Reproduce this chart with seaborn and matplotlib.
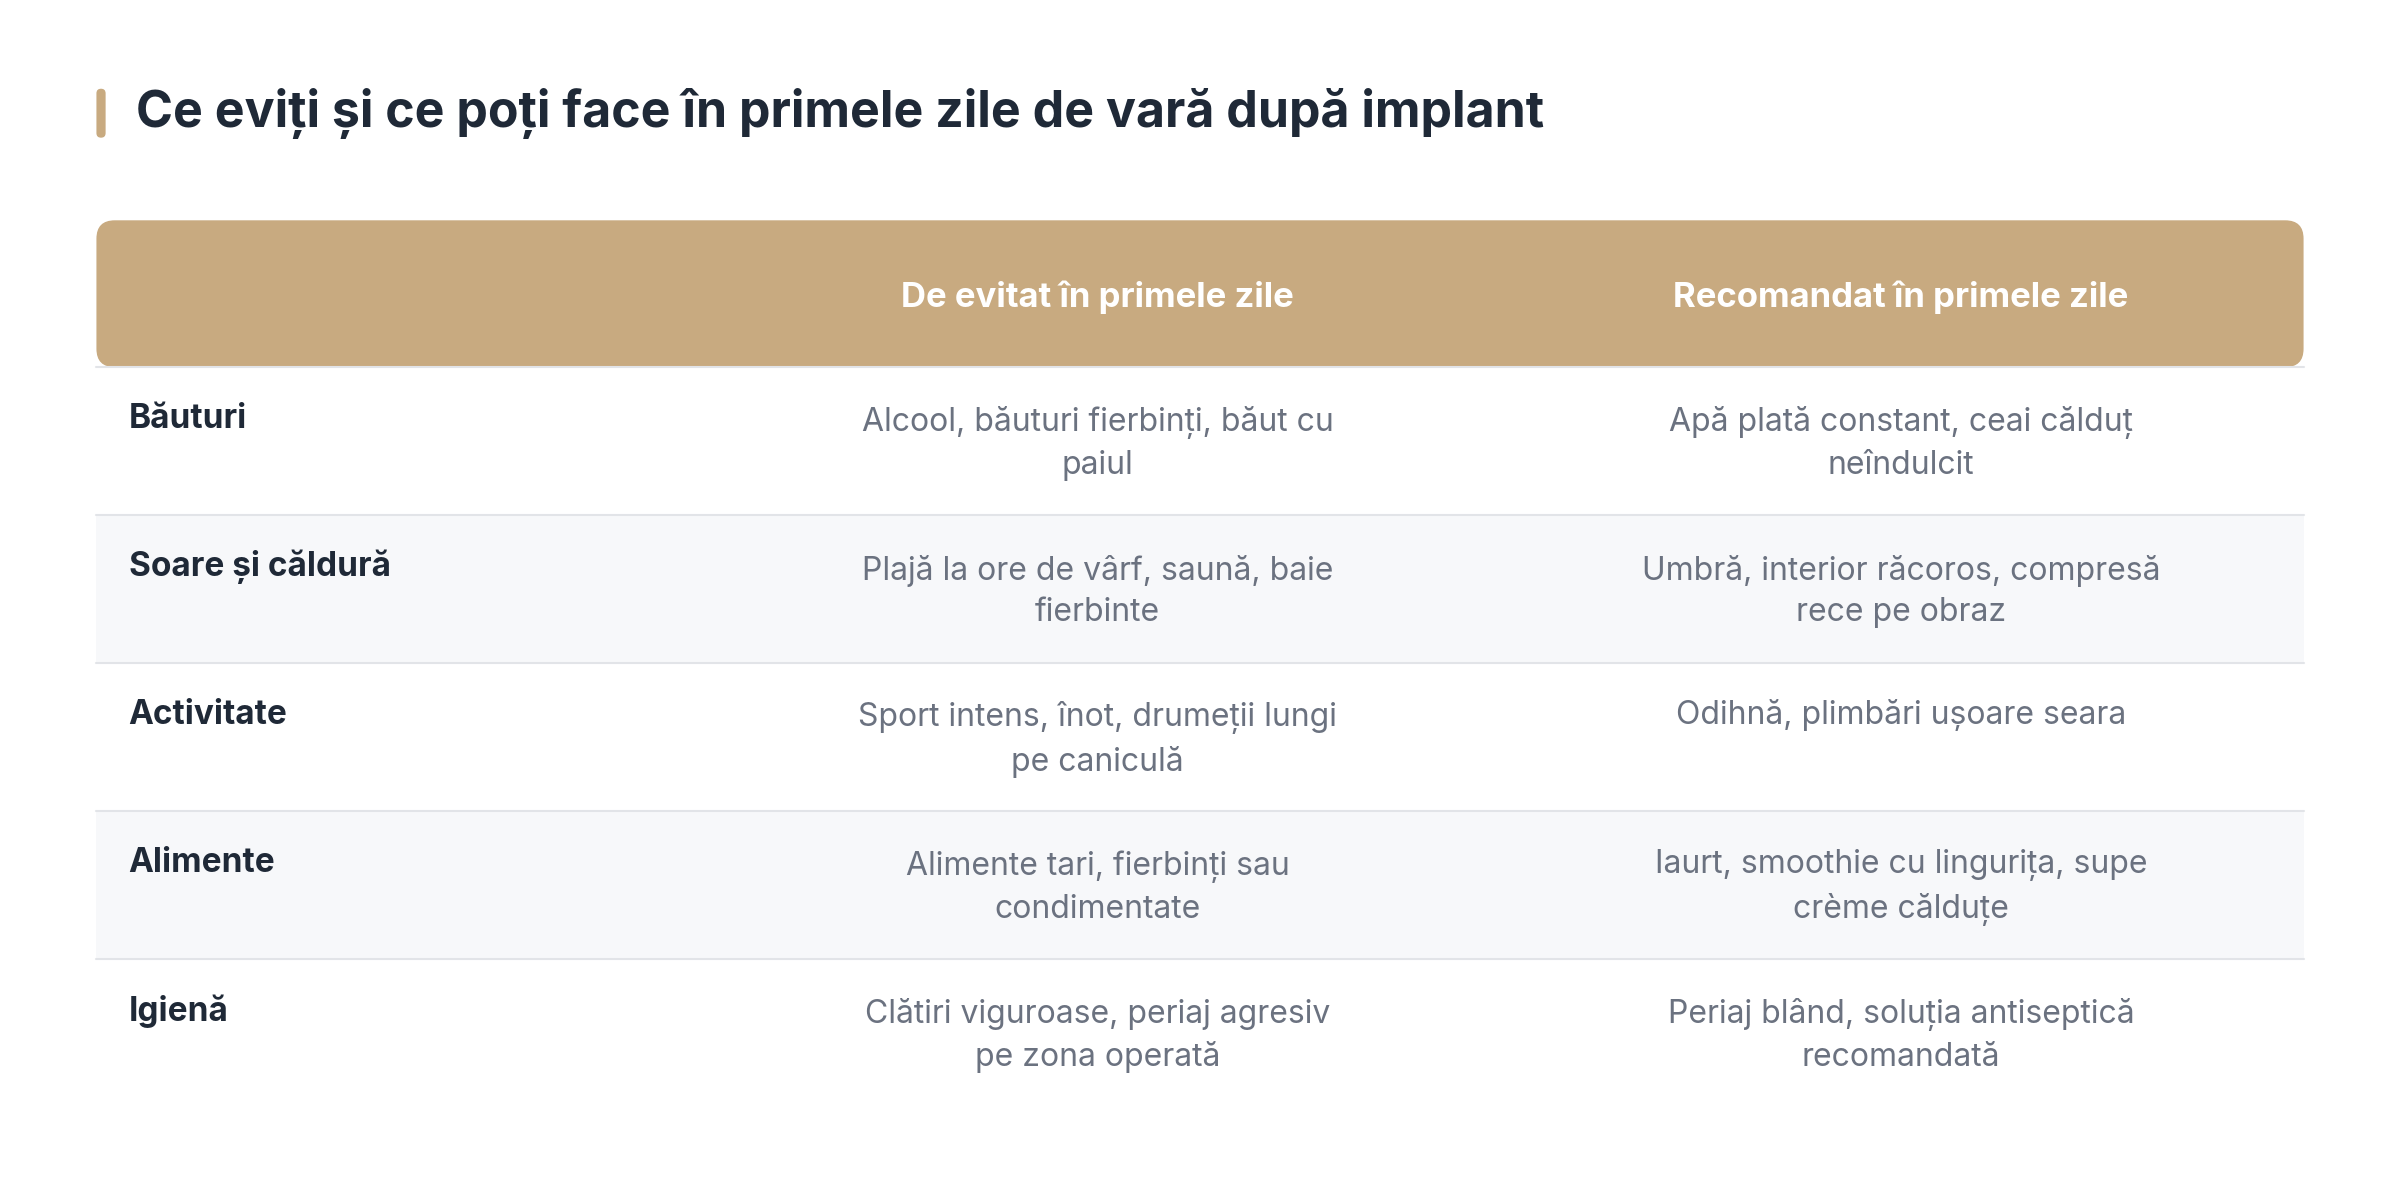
import matplotlib
matplotlib.use("Agg")
import matplotlib.pyplot as plt
import seaborn as sns
from matplotlib.patches import FancyBboxPatch, Rectangle

title = "Ce eviți și ce poți face în primele zile de vară după implant"
headers = ["", "De evitat în primele zile", "Recomandat în primele zile"]
categories = ["Băuturi", "Soare și căldură", "Activitate", "Alimente", "Igienă"]
avoid = ["Alcool, băuturi fierbinți, băut cu\npaiul",
         "Plajă la ore de vârf, saună, baie\nfierbinte",
         "Sport intens, înot, drumeții lungi\npe caniculă",
         "Alimente tari, fierbinți sau\ncondimentate",
         "Clătiri viguroase, periaj agresiv\npe zona operată"]
recommend = ["Apă plată constant, ceai călduț\nneîndulcit",
             "Umbră, interior răcoros, compresă\nrece pe obraz",
             "Odihnă, plimbări ușoare seara",
             "Iaurt, smoothie cu lingurița, supe\ncrème călduțe",
             "Periaj blând, soluția antiseptică\nrecomandată"]

sns.set_theme(style="white")
plt.rcParams['font.family'] = ['Inter', 'DejaVu Sans']

W, H = 1568, 787
fig = plt.figure(figsize=(24, 12.04), dpi=100)
ax = fig.add_axes([0, 0, 1, 1])
ax.set_xlim(0, W); ax.set_ylim(H, 0); ax.axis("off")

gold = "#c8aa80"
dark = "#1f2937"
grey = "#6b7280"

ax.add_patch(FancyBboxPatch((63, 58), 6, 32, boxstyle="round,pad=0,rounding_size=3", color=gold, lw=0))
ax.text(89, 74, title, fontsize=36, fontweight="bold", color=dark, va="center", ha="left")

ax.add_patch(FancyBboxPatch((63, 144), 1442, 96, boxstyle="round,pad=0,rounding_size=12", color=gold, lw=0))
col_x = [84, 717, 1242]
for i, h in enumerate(headers[1:], start=1):
    ax.text(col_x[i], 194, h, fontsize=25, fontweight="bold", color="white", ha="center", va="center")

top, rh = 240, 96.7
for r, cat in enumerate(categories):
    y0 = top + r * rh
    if r % 2 == 1:
        ax.add_patch(Rectangle((63, y0), 1442, rh, color="#f7f8fa", lw=0))
    ax.plot([63, 1505], [y0, y0], color="#e2e4e8", lw=1.5)
    ax.text(col_x[0], y0 + 34, cat, fontsize=24, fontweight="bold", color=dark, ha="left", va="center")
    ax.text(col_x[1], y0 + 50, avoid[r], fontsize=23, color=grey, ha="center", va="center", linespacing=1.45)
    ax.text(col_x[2], y0 + (50 if "\n" in recommend[r] else 34), recommend[r], fontsize=23, color=grey,
            ha="center", va="center", linespacing=1.45)

fig.savefig("out.png", dpi=100, facecolor="white")
